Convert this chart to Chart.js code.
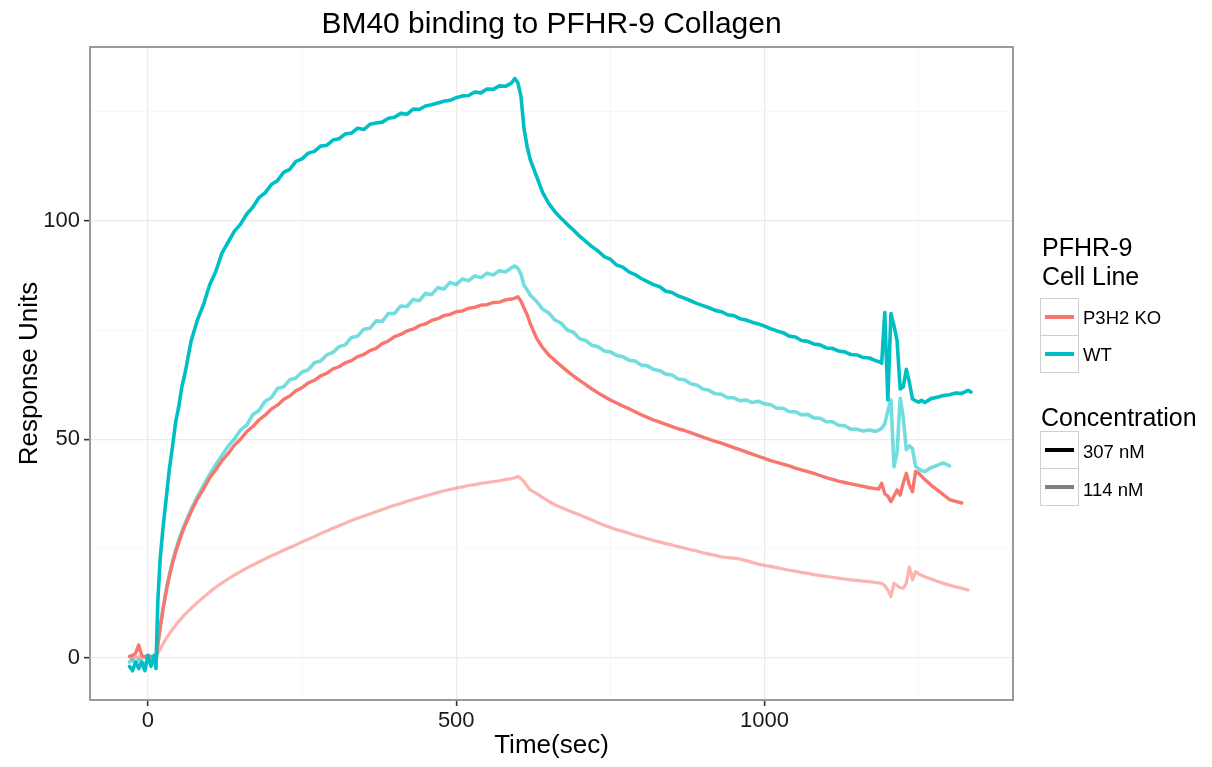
<!DOCTYPE html>
<html><head><meta charset="utf-8">
<script src="https://cdn.jsdelivr.net/npm/chart.js@4.4.0/dist/chart.umd.min.js"></script>
<style>
html,body{margin:0;padding:0;background:#fff;}
#wrap{position:relative;width:1212px;height:767px;overflow:hidden;}
#c{position:absolute;left:0;top:0;}
.lg{position:absolute;font-family:"Liberation Sans",Arial,sans-serif;color:#000;white-space:nowrap;line-height:1;}
.lt{font-size:25px;}
.ll{font-size:18.5px;}
.kb{position:absolute;box-sizing:border-box;border:1px solid #cfcfcf;background:#fff;}
.kl{position:absolute;left:4px;right:4px;top:50%;height:3.5px;margin-top:-1.75px;}
</style></head><body>
<div id="wrap">
<canvas id="c" width="1212" height="767"></canvas>
<div class="lg lt" style="left:1042px;top:235px;">PFHR-9</div>
<div class="lg lt" style="left:1042px;top:264px;">Cell Line</div>
<div class="kb" style="left:1040px;top:298px;width:39px;height:38px;"><div class="kl" style="background:#F8766D"></div></div>
<div class="kb" style="left:1040px;top:335px;width:39px;height:38px;"><div class="kl" style="background:#00BFC4"></div></div>
<div class="lg ll" style="left:1083px;top:309px;">P3H2 KO</div>
<div class="lg ll" style="left:1083px;top:346px;">WT</div>
<div class="lg lt" style="left:1041px;top:405px;">Concentration</div>
<div class="kb" style="left:1040px;top:431px;width:39px;height:38px;"><div class="kl" style="background:#000"></div></div>
<div class="kb" style="left:1040px;top:468px;width:39px;height:38px;"><div class="kl" style="background:#808080"></div></div>
<div class="lg ll" style="left:1083px;top:443px;">307 nM</div>
<div class="lg ll" style="left:1083px;top:481px;">114 nM</div>
</div>
<script>
// ---- data (time in seconds, response units) ----
const timeSec = [-30,-25,-20,-15,-10,-5,0,5,10,13,16,20,25,30,35,40,45,50,55,60,
70,80,90,100,110,120,130,140,150,160,170,180,190,200,210,220,230,240,250,260,270,280,290,300,
310,320,330,340,350,360,370,380,390,400,410,420,430,440,450,460,470,480,490,500,
510,520,530,540,550,560,570,580,590,595,600,605,610,615,620,
630,640,650,660,670,680,690,700,710,720,730,740,750,760,770,780,790,800,
810,820,830,840,850,860,870,880,890,900,910,920,930,940,950,960,970,980,990,1000,
1010,1020,1030,1040,1050,1060,1070,1080,1090,1100,1110,1120,1130,1140,1150,1160,1170,1180,
1185,1190,1195,1200,1205,1210,1215,1220,1225,1230,1235,1240,1245,1250,1255,1260,
1270,1280,1290,1300,1310,1320,1330,1335];

const wt307 = [-2,-3,-1,-2.5,-1,-3,0.5,-2,0.5,-2.5,13,23,30.5,37,43.5,48.5,54,57.5,62,65,
72.5,77.2,80.8,85.3,88.4,92.6,95.1,97.6,99.2,101.5,103.1,105.3,106.4,108.3,109.2,111.1,111.8,113.6,114.2,115.5,115.9,117.1,117.3,118.5,
118.8,119.9,120.1,121.2,120.9,122.1,122.4,122.6,123.5,123.7,124.6,124.4,125.6,125.5,126.3,126.6,127.0,127.4,127.6,128.2,
128.6,128.7,129.5,129.3,130.2,130.1,130.9,130.8,131.6,132.6,131.6,128.5,121,117,114,
110.3,106.5,104,102.1,100.6,99.2,97.9,96.5,95.3,94.1,93.1,91.8,91.2,89.9,89.4,88.3,87.7,86.8,
86.1,85.4,84.9,83.9,83.6,82.8,82.3,81.7,81.1,80.6,80.1,79.5,79.2,78.5,78.3,77.6,77.3,76.8,76.4,75.9,
75.3,74.8,74.4,73.6,73.4,72.6,72.4,71.8,71.6,70.9,70.8,70.2,70.0,69.4,69.3,68.7,68.6,68.0,
67.8,67.4,79,59,78.8,76,72.5,61.5,62,66,63,59.2,58.8,58.5,58.9,58.4,
59.3,59.6,60,60.2,60.6,60.5,61.2,60.8];

const wt114 = [-1,-0.5,-1.5,-0.5,-1,-1.5,-0.5,-1,-1,-1.2,3.2,7.3,11.8,15.9,19.2,22.1,24.6,26.9,28.9,30.7,
33.9,36.8,39.4,41.9,44.2,46.3,48.4,50,52.1,53.2,55.6,56.6,58.7,59.5,61.6,62,63.6,64,65.4,65.9,67.5,67.9,69.3,69.9,
71.2,71.6,73.3,73.6,75.2,75.4,77.1,77,78.8,78.8,80.5,80.4,82,81.7,83.4,83.1,84.7,84.4,85.9,85.4,
86.7,86.3,87.4,87,88,87.6,88.6,88.3,89.3,89.7,89.1,87.8,85.2,84.2,83,
81.6,79.8,78.9,77.3,76.6,75,74.5,73,72.6,71.5,71.2,70.2,70,69.2,68.9,68.1,67.9,67,
66.8,66,65.7,64.9,64.7,63.8,63.6,62.7,62.4,61.5,61.2,60.4,60.3,59.5,59.5,58.8,59,58.4,58.7,58.1,
57.9,57.1,57.1,56.3,56.3,55.6,55.7,54.9,54.8,54,54,53.2,53.1,52.3,52.3,51.9,52.1,51.8,
52.1,52.5,53.5,56.5,59,43.7,47,59.4,55,47.6,48.5,47.8,43.8,43.2,42.8,42.6,
43.5,44,44.6,43.9,null,null,null,null];

const ko307 = [0.3,0.5,1,2.9,0.5,0.2,0.5,0.3,0.2,0,3,7,11.5,15.5,18.8,21.7,24.2,26.4,28.4,30.2,
33.4,36.3,38.6,41.1,43,45.1,46.7,48.6,50,51.7,52.9,54.4,55.5,56.9,57.8,59.1,59.9,61.1,61.8,62.9,63.5,64.5,65.1,66.1,
66.6,67.5,68,68.9,69.4,70.3,70.8,71.9,72.5,73.5,74,74.8,75.2,76,76.4,77.2,77.6,78.3,78.6,79.2,
79.4,80,80.2,80.7,80.8,81.3,81.4,81.9,82.1,82.3,82.6,81.6,80,78.5,76.5,
73.2,71,69.3,68,66.8,65.6,64.5,63.5,62.5,61.5,60.6,59.8,59,58.3,57.6,57,56.3,55.6,
55,54.4,53.9,53.4,52.9,52.4,52,51.5,51,50.5,50,49.5,49.1,48.6,48.1,47.6,47.1,46.6,46.1,45.6,
45.1,44.7,44.3,43.9,43.4,43,42.6,42.2,41.7,41.2,40.8,40.4,40.1,39.8,39.5,39.2,38.9,38.7,
38.6,39.9,37.5,37,35.7,37,38.4,37.2,40,42.2,39.5,38,42.6,42.2,41.5,40.8,
39.5,38.4,37.3,36.2,35.8,35.4,null,null];

const ko114 = [0.2,-0.3,0,0.2,-0.2,0,0.3,-0.1,0,0,1,2,3.3,4.5,5.5,6.5,7.4,8.3,9.1,9.9,
11.3,12.6,13.8,15,16.1,17.1,18,18.9,19.7,20.5,21.2,21.9,22.6,23.3,23.9,24.6,25.2,25.8,26.5,27.1,27.7,28.4,29,29.6,
30.2,30.8,31.4,31.9,32.4,32.9,33.4,33.9,34.4,34.9,35.3,35.8,36.2,36.6,37,37.4,37.8,38.2,38.5,38.8,
39.1,39.4,39.6,39.9,40.1,40.3,40.5,40.8,41,41.2,41.5,41,40.3,39.3,38.4,
37.6,36.7,35.8,35,34.4,33.8,33.2,32.7,32.1,31.5,30.9,30.3,29.8,29.3,28.9,28.5,28,27.6,
27.2,26.8,26.5,26.1,25.8,25.4,25.1,24.7,24.4,24,23.7,23.4,23.1,22.9,22.8,22.6,22.2,21.8,21.4,21.1,
20.9,20.6,20.3,20,19.8,19.5,19.3,19,18.8,18.6,18.4,18.2,18,17.8,17.7,17.5,17.4,17.2,
17.1,17,16.5,15.5,14,17,16.5,16,15.9,17,20.8,17.8,19.7,19.2,18.8,18.5,
18,17.5,17,16.6,16.2,15.9,15.5,null];

const xMajorTicks = [0, 500, 1000];
const xMinorTicks = [250, 750, 1250];
const yMajorTicks = [0, 50, 100];
const yMinorTicks = [25, 75, 125];

const FONT = '"Liberation Sans", Arial, sans-serif';
function pts(vals){ const out=[]; vals.forEach((v,i)=>{ if(v!==null) out.push({x:timeSec[i], y:v}); }); return out; }

const borderPlugin = {
  id:'panelBorder',
  afterDatasetsDraw(chart){
    const {ctx, chartArea:a} = chart;
    ctx.save(); ctx.strokeStyle='#9a9a9a'; ctx.lineWidth=2;
    ctx.strokeRect(a.left, a.top, a.right-a.left, a.bottom-a.top);
    ctx.restore();
  }
};

function gridOpts(major){
  return {
    color: c => (c.tick && major.includes(c.tick.value)) ? '#ebebeb' : '#f7f7f7',
    lineWidth: c => (c.tick && major.includes(c.tick.value)) ? 1.3 : 1,
    tickColor: c => (c.tick && major.includes(c.tick.value)) ? '#333333' : 'rgba(0,0,0,0)',
    tickLength: 6, tickWidth: 1.6, drawTicks: true
  };
}

new Chart(document.getElementById('c'), {
  type:'line',
  data:{ datasets:[
    {label:'WT 307 nM', data:pts(wt307), borderColor:'#00BFC4', borderWidth:3.6},
    {label:'P3H2 KO 307 nM', data:pts(ko307), borderColor:'#F8766D', borderWidth:3.4},
    {label:'WT 114 nM', data:pts(wt114), borderColor:'rgba(0,191,196,0.55)', borderWidth:3.6},
    {label:'P3H2 KO 114 nM', data:pts(ko114), borderColor:'rgba(248,118,109,0.55)', borderWidth:3.2}
  ]},
  options:{
    responsive:false, animation:false, devicePixelRatio:1,
    layout:{padding:{left:0, right:199, top:0, bottom:0}},
    elements:{point:{radius:0}, line:{tension:0, borderJoinStyle:'round', borderCapStyle:'round'}},
    plugins:{
      legend:{display:false}, tooltip:{enabled:false},
      title:{display:true, fullSize:false, text:'BM40 binding to PFHR-9 Collagen', color:'#000',
        font:{family:FONT, size:30, weight:'normal', lineHeight:1.2}, padding:{top:7, bottom:4}}
    },
    scales:{
      x:{type:'linear', min:-94, max:1403,
        afterBuildTicks: s => { s.ticks = xMajorTicks.concat(xMinorTicks).sort((a,b)=>a-b).map(v=>({value:v})); },
        afterFit: s => { s.height = 67; },
        ticks:{autoSkip:false, maxRotation:0, color:'#1a1a1a', padding:2,
          font:{family:FONT, size:22}, callback: v => xMajorTicks.includes(v) ? String(v) : ''},
        grid: gridOpts(xMajorTicks), border:{display:false},
        title:{display:true, text:'Time(sec)', color:'#000', font:{family:FONT, size:26}, padding:{top:0, bottom:6}}
      },
      y:{type:'linear', min:-9.7, max:139.8,
        afterBuildTicks: s => { s.ticks = yMajorTicks.concat(yMinorTicks).sort((a,b)=>a-b).map(v=>({value:v})); },
        afterFit: s => { s.width = 90; },
        ticks:{autoSkip:false, color:'#1a1a1a', padding:4,
          font:{family:FONT, size:22}, callback: v => yMajorTicks.includes(v) ? String(v) : ''},
        grid: gridOpts(yMajorTicks), border:{display:false},
        title:{display:true, text:'Response Units', color:'#000', font:{family:FONT, size:26}, padding:{top:14, bottom:0}}
      }
    }
  },
  plugins:[borderPlugin]
});
</script>
</body></html>
